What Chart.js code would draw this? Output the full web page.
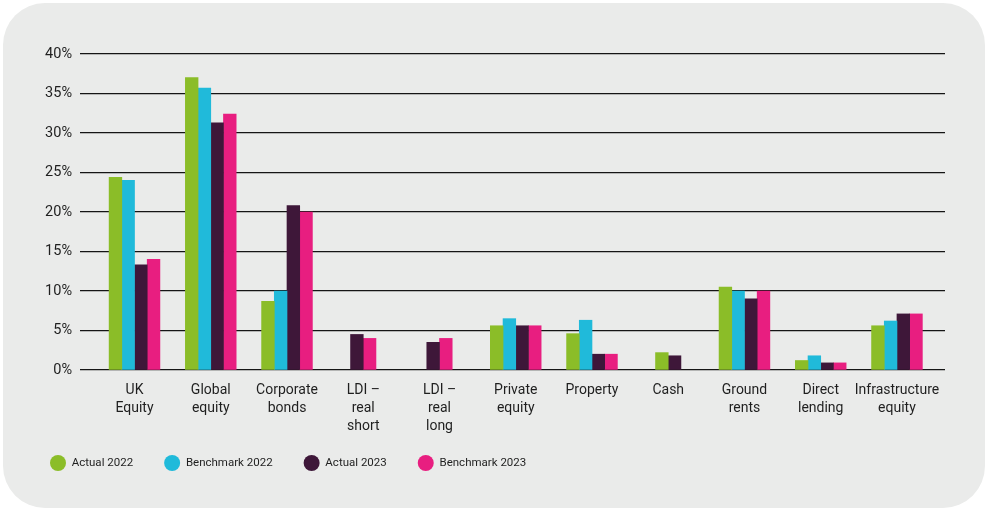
<!DOCTYPE html>
<html>
<head>
<meta charset="utf-8">
<script src="https://cdn.jsdelivr.net/npm/chart.js@4.4.1/dist/chart.umd.min.js"></script>
<style>
  html, body { margin: 0; padding: 0; background: #ffffff; }
  body { width: 989px; height: 509px; position: relative; overflow: hidden; }
  .panel {
    position: absolute; left: 3px; top: 3px; width: 982px; height: 505px;
    background: #eaebea; border-radius: 42px;
  }
  .wrap { position: absolute; left: 0; top: 0; width: 989px; height: 509px; }
</style>
</head>
<body>
<div class="panel"></div>
<div class="wrap"><canvas id="chart" width="989" height="509"></canvas></div>
<script>
// Asset classes (multi-line tick labels)
const categories = [
  ['UK', 'Equity'],
  ['Global', 'equity'],
  ['Corporate', 'bonds'],
  ['LDI –', 'real', 'short'],
  ['LDI –', 'real', 'long'],
  ['Private', 'equity'],
  ['Property'],
  ['Cash'],
  ['Ground', 'rents'],
  ['Direct', 'lending'],
  ['Infrastructure', 'equity']
];

// Allocation in % (null = no allocation, bar omitted from the group)
const actual2022    = [24.4, 37.0,  8.7, null, null, 5.6, 4.6, 2.2, 10.5, 1.2, 5.6];
const benchmark2022 = [24.0, 35.7, 10.0, null, null, 6.5, 6.3, null, 10.0, 1.8, 6.2];
const actual2023    = [13.3, 31.3, 20.8, 4.5,  3.5,  5.6, 2.0, 1.8,  9.0, 0.9, 7.1];
const benchmark2023 = [14.0, 32.4, 20.0, 4.0,  4.0,  5.6, 2.0, null, 10.0, 0.9, 7.1];

const seriesNames  = ['Actual 2022', 'Benchmark 2022', 'Actual 2023', 'Benchmark 2023'];
const seriesColors = ['#8bbd28', '#20bada', '#3e1739', '#e81e80'];

const yTicks = [0, 5, 10, 15, 20, 25, 30, 35, 40];

const FONT = 'Roboto, "Liberation Sans", Arial, sans-serif';
const TEXT = '#1f1f1f';

const seriesValues = [actual2022, benchmark2022, actual2023, benchmark2023];

const datasets = seriesValues.map((vals, s) => ({
  label: seriesNames[s],
  data: vals.map((v, i) => ({ x: i, y: v })),
  backgroundColor: seriesColors[s],
  borderWidth: 0,
  barThickness: 12.7,
  skipNull: true
}));

// Lift the legend row closer to the axis labels
const legendLift = {
  id: 'legendLift',
  afterLayout(chart) {
    if (chart.legend) {
      chart.legend.top -= 13.75;
      chart.legend.bottom -= 13.75;
    }
  }
};

new Chart(document.getElementById('chart'), {
  type: 'bar',
  data: { datasets },
  plugins: [legendLift],
  options: {
    responsive: false,
    animation: false,
    layout: { padding: { left: 19, right: 44, top: 54, bottom: 16.5 } },
    scales: {
      x: {
        type: 'linear',
        offset: false,
        min: -0.715,
        max: 10.63,
        grid: { display: false },
        border: { display: false },
        ticks: {
          stepSize: 1,
          includeBounds: false,
          autoSkip: false,
          maxRotation: 0,
          padding: 4,
          color: TEXT,
          font: { family: FONT, size: 14, lineHeight: 1.28 },
          callback: (v) => (Number.isInteger(v) && categories[v]) ? categories[v] : ''
        },
        afterFit: (scale) => { scale.height = 70; }
      },
      y: {
        min: 0,
        max: 40,
        afterBuildTicks: (scale) => { scale.ticks = yTicks.map(v => ({ value: v })); },
        grid: { color: '#151515', lineWidth: 1.2, drawTicks: false },
        border: { display: false },
        ticks: {
          padding: 8,
          color: TEXT,
          font: { family: FONT, size: 14.5 },
          callback: (v) => v + '%'
        },
        afterFit: (scale) => { scale.width = 61; }
      }
    },
    plugins: {
      legend: {
        position: 'bottom',
        align: 'start',
        labels: {
          usePointStyle: true,
          pointStyle: 'circle',
          pointStyleWidth: 16,
          boxHeight: 11.3,
          padding: 31,
          color: TEXT,
          font: { family: FONT, size: 11.5 }
        }
      },
      tooltip: { enabled: false }
    }
  }
});
</script>
</body>
</html>
